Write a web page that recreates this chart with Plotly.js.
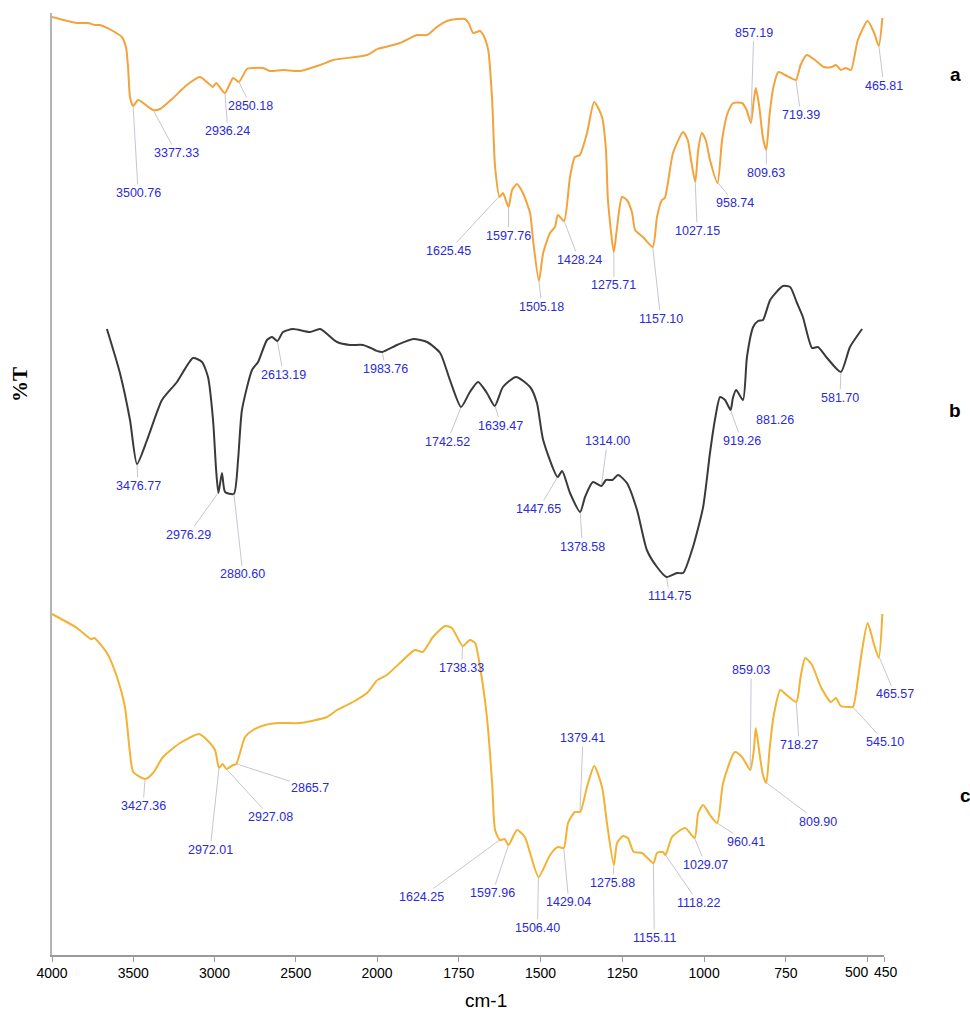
<!DOCTYPE html>
<html>
<head>
<meta charset="utf-8">
<script src="https://cdn.plot.ly/plotly-3.0.1.min.js"></script>
<style>html,body{margin:0;padding:0;background:#fff;}#chart{width:970px;height:1022px;}</style>
</head>
<body>
<div id="chart"></div>
<script>
// ---- Data (wavenumber cm-1, transmittance in stacked arbitrary units) ----
const wnA = [4000,3846,3780,3735,3705,3625,3570,3545,3532,3520,3501,3470,3415,3377,3335,3255,3170,3090,3040,3010,2990,2936,2885,2850,2800,2760,2700,2660,2580,2474,2350,2270,2062,2000,1930,1878,1847,1817,1786,1755,1731,1720,1706,1685,1675,1660,1648,1639,1625,1615,1598,1587,1572,1554,1532,1523,1505,1492,1471,1456,1447,1428,1410,1395,1380,1358,1336,1312,1300,1294,1276,1266,1251,1236,1220,1211,1187,1157,1144,1129,1120,1095,1064,1050,1040,1027,1018,1007,995,982,959,945,930,911,884,870,857,848,842,832,820,810,800,788,773,752,735,719,705,686,661,634,610,597,582,567,551,530,500,480,466,455];
const tA  = [938,932,932,930,930,924,918,908,888,858,849,855,849,845,846,857,870,878,872,868,872,862,877,873,886,887,887,884,885,884,890,895,900,906,912,920,920,928,934,936,936,932,922,924,920,905,855,788,758,762,748,765,771,762,742,715,674,702,722,728,740,734,778,798,800,822,853,838,805,755,703,728,758,755,742,725,718,708,738,755,757,802,823,815,795,773,805,822,815,795,772,815,840,852,852,845,832,855,867,850,817,805,840,868,883,880,877,875,890,900,895,888,888,890,885,887,885,915,934,922,909,937];

const wnB = [3662,3582,3520,3477,3415,3323,3231,3132,3077,3040,3009,2990,2976,2954,2935,2881,2855,2831,2769,2732,2677,2646,2613,2578,2517,2412,2350,2246,2166,2086,2025,2000,1984,1939,1889,1847,1807,1777,1743,1716,1691,1664,1640,1615,1575,1532,1511,1492,1448,1434,1410,1379,1364,1340,1314,1300,1280,1263,1236,1205,1175,1144,1115,1083,1064,1034,1003,982,967,951,936,919,912,902,881,869,850,835,820,798,759,737,716,698,670,652,624,582,554,517];
const tB  = [626,582,535,491,515,555,573,597,593,578,535,485,462,482,463,461,495,545,585,593,615,618,614,623,626,623,626,613,610,610,606,604,603,610,616,613,602,575,548,563,573,562,549,568,578,568,552,515,478,484,462,443,458,473,469,475,475,480,472,445,405,388,378,382,382,408,448,502,535,558,555,545,557,565,555,598,628,634,635,655,669,668,652,638,607,608,597,583,608,626];

const wnC = [4000,3846,3760,3740,3662,3600,3551,3520,3500,3427,3378,3317,3212,3095,3046,2997,2972,2950,2927,2886,2866,2812,2763,2689,2597,2474,2308,2246,2148,2062,2000,1970,1930,1884,1860,1829,1792,1771,1738,1716,1700,1685,1664,1648,1639,1624,1610,1598,1572,1548,1532,1506,1471,1447,1429,1416,1395,1379,1358,1336,1312,1297,1276,1266,1248,1233,1215,1190,1155,1144,1126,1118,1098,1058,1029,1018,1003,982,960,942,906,884,859,848,842,832,820,810,800,788,767,748,718,705,691,670,643,612,597,582,557,545,530,517,500,480,466,455];
const tC  = [341,327,316,317,302,278,248,202,183,176,182,198,212,221,215,205,187,191,186,190,191,218,225,230,232,232,238,245,253,262,275,280,292,305,303,318,329,327,309,315,312,288,238,172,125,115,116,110,125,118,102,78,100,108,107,132,143,143,168,189,168,132,90,112,119,117,103,102,92,102,103,100,118,127,117,142,150,140,132,172,203,198,185,205,227,205,180,172,205,238,265,260,253,278,297,290,268,253,257,249,248,248,275,305,332,310,297,341];

// Peak labels
const peaksA  = [3500.76,3377.33,2936.24,2850.18,1625.45,1597.76,1505.18,1428.24,1275.71,1157.10,1027.15,958.74,857.19,809.63,719.39,465.81];
const labelsA = ["3500.76","3377.33","2936.24","2850.18","1625.45","1597.76","1505.18","1428.24","1275.71","1157.10","1027.15","958.74","857.19","809.63","719.39","465.81"];
const peaksB  = [3476.77,2976.29,2880.60,2613.19,1983.76,1742.52,1639.47,1447.65,1378.58,1314.00,1114.75,919.26,881.26,581.70];
const labelsB = ["3476.77","2976.29","2880.60","2613.19","1983.76","1742.52","1639.47","1447.65","1378.58","1314.00","1114.75","919.26","881.26","581.70"];
const peaksC  = [3427.36,2972.01,2927.08,2865.7,1738.33,1624.25,1597.96,1506.40,1429.04,1379.41,1275.88,1155.11,1118.22,1029.07,960.41,859.03,809.90,718.27,545.10,465.57];
const labelsC = ["3427.36","2972.01","2927.08","2865.7","1738.33","1624.25","1597.96","1506.40","1429.04","1379.41","1275.88","1155.11","1118.22","1029.07","960.41","859.03","809.90","718.27","545.10","465.57"];

const ticksHigh = [4000,3500,3000,2500];
const ticksLow  = [2000,1750,1500,1250,1000,750,500,450];
const sampleNames = ["a","b","c"];

// ---- Layout-only: label offsets (px) ----
const offA = [[5,87],[23,43],[3,38],[12,24],[-51,55],[0,29],[3,26],[15,39],[0,34],[8,72],[2,49],[17,21],[3,-90],[0,24],[5,35],[5,40]];
const offB = [[1,22],[-30,42],[9,81],[6,34],[3,17],[-14,35],[6,20],[-19,32],[2,35],[6,-45],[3,19],[11,31],[32,20],[-1,26]];
const offC = [[-2,27],[-9,82],[44,48],[74,24],[-1,22],[-78,57],[-16,48],[-1,51],[5,54],[3,-74],[-1,18],[1,75],[33,48],[11,27],[29,19],[1,-100],[52,39],[3,43],[32,35],[16,38]];

const SPLIT = 2000;
function split(wn, t) {
  const hi = {x:[],y:[]}, lo = {x:[],y:[]};
  wn.forEach((w,i)=>{ if (w>=SPLIT){hi.x.push(w);hi.y.push(t[i]);} if (w<=SPLIT){lo.x.push(w);lo.y.push(t[i]);} });
  return [hi, lo];
}
function interp(wn, t, w) {
  for (let i=0;i<wn.length-1;i++) {
    if (wn[i]>=w && wn[i+1]<=w) { const f=(wn[i]-w)/(wn[i]-wn[i+1]); return t[i]+f*(t[i+1]-t[i]); }
  }
  return w>wn[0]?t[0]:t[t.length-1];
}

const colors = ["#F2A33C","#3a3a3a","#F2B233"];
const series = [[wnA,tA],[wnB,tB],[wnC,tC]];
const traces = [];
series.forEach((s,k)=>{
  const [hi,lo] = split(s[0], s[1]);
  const line = {color:colors[k], width:2, shape:'spline', smoothing:0.6};
  traces.push({x:hi.x,y:hi.y,xaxis:'x',yaxis:'y',type:'scatter',mode:'lines',line:line,hoverinfo:'skip',name:sampleNames[k]});
  traces.push({x:lo.x,y:lo.y,xaxis:'x2',yaxis:'y',type:'scatter',mode:'lines',line:line,hoverinfo:'skip',name:sampleNames[k]});
});

const annotations = [];
function addPeaks(peaks, labels, offs, wn, t) {
  peaks.forEach((p,i)=>{
    annotations.push({
      x:p, y:interp(wn,t,p), xref: p>=SPLIT?'x':'x2', yref:'y',
      text:labels[i], showarrow:true, arrowhead:0, arrowwidth:1, arrowcolor:'#c6c6d2',
      ax:offs[i][0], ay:offs[i][1], standoff:1,
      font:{family:'Liberation Sans, Arial, sans-serif', size:12.5, color:'#2b2bd6'}
    });
  });
}
addPeaks(peaksA, labelsA, offA, wnA, tA);
addPeaks(peaksB, labelsB, offB, wnB, tB);
addPeaks(peaksC, labelsC, offC, wnC, tC);

// sample letters
[["a",955,75],["b",955,410],["c",965,795]].forEach(d=>{
  annotations.push({xref:'paper',yref:'paper',x:(d[1]-52)/832,y:(955-d[2])/942,text:d[0],showarrow:false,
    xanchor:'center',yanchor:'middle',font:{family:'Liberation Sans, Arial, sans-serif',size:19,color:'#000',weight:'bold'}});
});
// axis titles
annotations.push({xref:'paper',yref:'paper',x:(486-52)/832,y:(955-1000)/942,text:'cm-1',showarrow:false,xanchor:'center',yanchor:'middle',
  font:{family:'Liberation Sans Narrow, Liberation Sans, Arial, sans-serif',size:19,color:'#000'}});
annotations.push({xref:'paper',yref:'paper',x:(20-52)/832,y:(955-385)/942,text:'%T',showarrow:false,textangle:-90,xanchor:'center',yanchor:'middle',
  font:{family:'Liberation Serif, Times New Roman, serif',size:21,color:'#000',weight:'bold'}});

const tickFont = {family:'Liberation Sans, Arial, sans-serif', size:14, color:'#000'};
// 500 and 450 sit close together: their labels are set side by side ("500450" in the reference)
const closeTicks = [500, 450];
const ticktextLow = ticksLow.map(v => closeTicks.includes(v) ? '' : String(v));
annotations.push({xref:'x2',yref:'paper',x:closeTicks[0],y:(955-972)/942,text:String(closeTicks[0]),showarrow:false,
  xanchor:'right',yanchor:'middle',xshift:3,font:tickFont});
annotations.push({xref:'x2',yref:'paper',x:closeTicks[1],y:(955-972)/942,text:String(closeTicks[1]),showarrow:false,
  xanchor:'left',yanchor:'middle',xshift:-12,font:tickFont});

const axisCommon = {showline:true, linecolor:'#9a9a9a', linewidth:1.5, ticks:'outside', ticklen:5, tickcolor:'#9a9a9a',
  showgrid:false, zeroline:false, tickmode:'array', fixedrange:true, tickangle:0, tickfont:tickFont};
const dom = (377-52)/832;

const layout = {
  width:970, height:1022,
  margin:{l:52, r:86, t:13, b:67},
  paper_bgcolor:'#fff', plot_bgcolor:'#fff',
  showlegend:false,
  xaxis: Object.assign({}, axisCommon, {domain:[0,dom], range:[4000,2000], tickvals:ticksHigh, ticktext:ticksHigh.map(String), anchor:'y'}),
  xaxis2: Object.assign({}, axisCommon, {domain:[dom,1], range:[2000,450], tickvals:ticksLow, ticktext:ticktextLow, anchor:'y'}),
  yaxis: {range:[0,942], showline:true, linecolor:'#b4b4b4', linewidth:2, showticklabels:false, ticks:'', showgrid:false, zeroline:false, fixedrange:true},
  annotations: annotations
};

Plotly.newPlot('chart', traces, layout, {displayModeBar:false, staticPlot:true});
</script>
</body>
</html>
